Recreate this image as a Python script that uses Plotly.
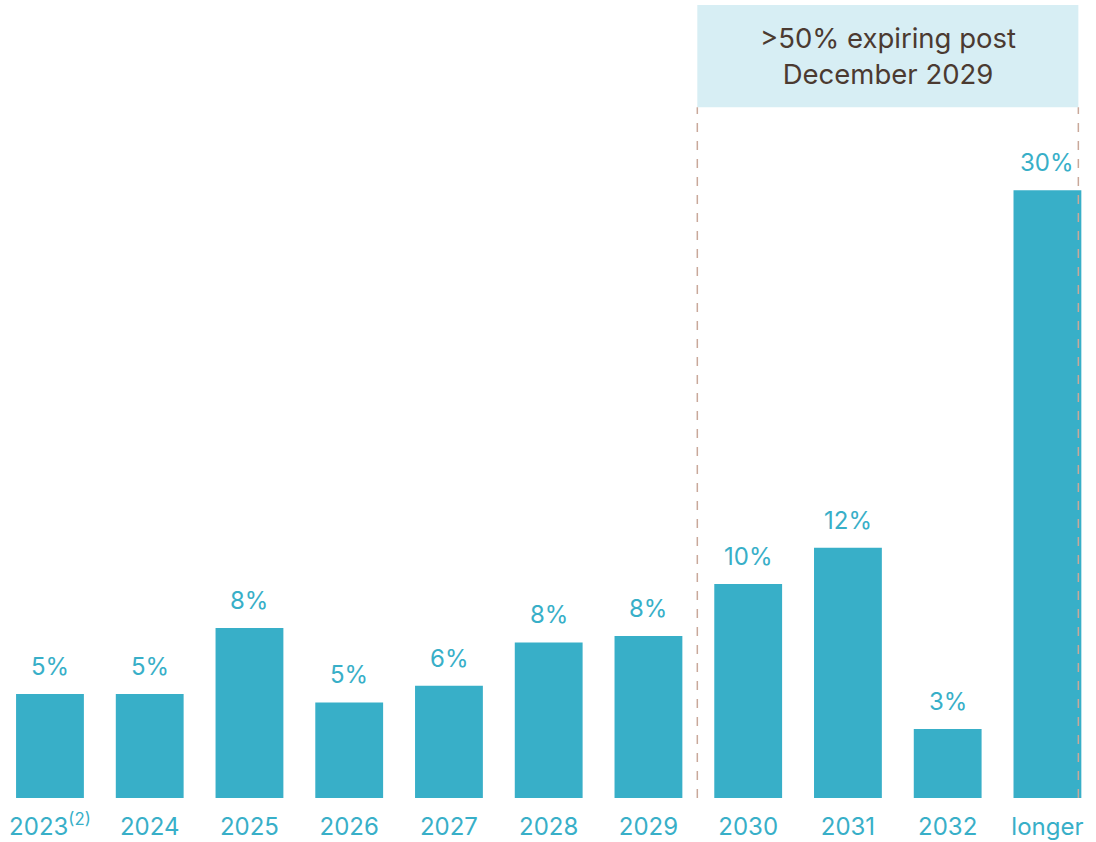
import plotly.graph_objects as go

categories = ["2023<sup>(2)</sup>", "2024", "2025", "2026", "2027", "2028", "2029", "2030", "2031", "2032", "longer"]
values = [5.13, 5.13, 8.39, 4.72, 5.54, 7.68, 8.0, 10.56, 12.35, 3.41, 30.0]
labels = ["5%", "5%", "8%", "5%", "6%", "8%", "8%", "10%", "12%", "3%", "30%"]
box_text = "&gt;50% expiring post<br>December 2029"

BAR = "#38AFC8"
FONT = "Inter, Lato, sans-serif"

x = list(range(len(categories)))

fig = go.Figure()
fig.add_trace(go.Bar(x=x, y=values, marker=dict(color=BAR, line=dict(width=0)), hoverinfo="skip"))

for xi, v, t in zip(x, values, labels):
    fig.add_annotation(x=xi, y=v, text=t, showarrow=False, yanchor="bottom", yshift=11,
                       font=dict(family=FONT, size=24, color=BAR))

# highlight box
fig.add_shape(type="rect", xref="x", yref="y", x0=6.49, x1=10.31, y0=34.1, y1=39.14,
              fillcolor="#D7EEF4", line=dict(width=0), layer="below")
fig.add_annotation(x=(6.49 + 10.31) / 2, y=(34.1 + 39.14) / 2, text=box_text, showarrow=False,
                   font=dict(family=FONT, size=27.5, color="#4B3A31"), align="center")
for xl in (6.49, 10.31):
    fig.add_shape(type="line", xref="x", yref="y", x0=xl, x1=xl, y0=0, y1=34.1,
                  line=dict(color="#C9A89A", width=1.5, dash="dash"), layer="above")

fig.update_layout(
    width=1096, height=842,
    margin=dict(l=0, r=0, t=0, b=44),
    paper_bgcolor="white", plot_bgcolor="white",
    showlegend=False, bargap=0.32,
    font=dict(family=FONT),
    xaxis=dict(range=[-0.501, 10.487], tickmode="array", tickvals=x, ticktext=categories,
               showgrid=False, zeroline=False, showline=False, ticks="",
               tickfont=dict(family=FONT, size=24, color=BAR), ticklabelstandoff=12, fixedrange=True),
    yaxis=dict(range=[0, 39.39], visible=False, fixedrange=True),
)

fig.write_html("out.html")
